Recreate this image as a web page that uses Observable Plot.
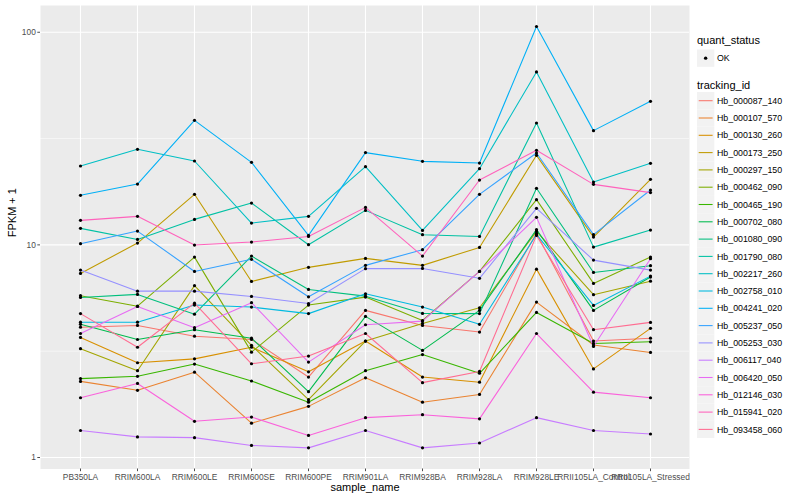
<!DOCTYPE html>
<html><head><meta charset="utf-8">
<script src="https://cdn.jsdelivr.net/npm/d3@7"></script>
<script src="https://cdn.jsdelivr.net/npm/@observablehq/plot@0.6"></script>
<style>
body{margin:0;background:#fff;font-family:"Liberation Sans",Arial,Helvetica,sans-serif;}
#wrap{position:relative;width:800px;height:500px;overflow:hidden;}
#wrap svg.plot{position:absolute;left:0;top:0;}
#legend{position:absolute;left:690px;top:0;}
</style></head><body><div id="wrap"></div>
<script>
const samples = ["PB350LA","RRIM600LA","RRIM600LE","RRIM600SE","RRIM600PE","RRIM901LA","RRIM928BA","RRIM928LA","RRIM928LE","RRII105LA_Control","RRII105LA_Stressed"];
const trackingIds = ["Hb_000087_140","Hb_000107_570","Hb_000130_260","Hb_000173_250","Hb_000297_150","Hb_000462_090","Hb_000465_190","Hb_000702_080","Hb_001080_090","Hb_001790_080","Hb_002217_260","Hb_002758_010","Hb_004241_020","Hb_005237_050","Hb_005253_030","Hb_006117_040","Hb_006420_050","Hb_012146_030","Hb_015941_020","Hb_093458_060"];
const quantStatus = ["OK"];

const Hb_000087_140 = [4.10, 4.18, 3.72, 3.59, 2.39, 4.92, 4.18, 3.89, 11.33, 3.53, 3.64];
const Hb_000107_570 = [2.28, 2.07, 2.52, 1.45, 1.74, 2.37, 1.82, 1.98, 5.38, 3.38, 3.12];
const Hb_000130_260 = [3.67, 2.79, 2.91, 3.30, 2.53, 3.53, 2.39, 2.26, 7.69, 2.61, 4.05];
const Hb_000173_250 = [7.34, 10.20, 17.29, 6.73, 7.84, 8.64, 8.01, 9.73, 26.37, 10.88, 20.33];
const Hb_000297_150 = [3.25, 2.56, 6.43, 3.37, 1.87, 3.53, 4.27, 5.06, 11.57, 5.83, 6.75];
const Hb_000462_090 = [5.77, 5.15, 8.76, 3.13, 5.21, 5.68, 4.41, 7.50, 16.32, 6.59, 8.76];
const Hb_000465_190 = [2.35, 2.41, 2.75, 2.29, 1.82, 2.56, 3.05, 2.49, 4.81, 3.44, 3.50];
const Hb_000702_080 = [4.23, 3.59, 3.99, 3.64, 2.04, 4.61, 3.19, 4.92, 11.79, 4.92, 7.06];
const Hb_001080_090 = [5.66, 5.85, 4.72, 8.86, 6.17, 5.74, 4.76, 4.75, 18.45, 7.42, 7.98];
const Hb_001790_080 = [11.96, 10.61, 13.18, 15.73, 10.02, 14.53, 11.17, 10.96, 37.43, 9.76, 11.74];
const Hb_002217_260 = [23.49, 28.14, 24.80, 12.66, 13.62, 23.33, 11.70, 22.83, 65.05, 19.75, 24.18];
const Hb_002758_010 = [4.33, 4.33, 5.21, 5.10, 4.75, 5.89, 5.10, 4.23, 11.20, 5.19, 7.13];
const Hb_004241_020 = [17.10, 19.32, 38.53, 24.44, 11.08, 27.16, 24.71, 24.26, 106.4, 34.46, 47.34];
const Hb_005237_050 = [10.13, 11.61, 7.50, 8.55, 5.70, 8.01, 9.49, 17.29, 27.04, 11.17, 18.11];
const Hb_005253_030 = [7.61, 6.06, 6.06, 5.72, 5.30, 7.73, 7.75, 6.96, 14.85, 8.48, 7.61];
const Hb_006117_040 = [1.34, 1.25, 1.24, 1.14, 1.11, 1.34, 1.11, 1.17, 1.54, 1.34, 1.29];
const Hb_006420_050 = [3.83, 5.13, 4.08, 5.35, 2.81, 4.21, 4.38, 7.50, 13.47, 3.33, 8.61];
const Hb_012146_030 = [1.91, 2.23, 1.48, 1.55, 1.27, 1.54, 1.59, 1.52, 3.83, 2.03, 1.91];
const Hb_015941_020 = [13.04, 13.62, 9.98, 10.31, 10.96, 15.01, 8.86, 20.18, 27.84, 19.26, 17.61];
const Hb_093458_060 = [4.75, 3.30, 5.32, 2.76, 3.00, 3.83, 2.25, 2.54, 11.08, 3.99, 4.32];

const seriesValues = [Hb_000087_140, Hb_000107_570, Hb_000130_260, Hb_000173_250, Hb_000297_150, Hb_000462_090, Hb_000465_190, Hb_000702_080, Hb_001080_090, Hb_001790_080, Hb_002217_260, Hb_002758_010, Hb_004241_020, Hb_005237_050, Hb_005253_030, Hb_006117_040, Hb_006420_050, Hb_012146_030, Hb_015941_020, Hb_093458_060];

const hueColors = ["#F8766D","#EA8331","#D89000","#C09B00","#A3A500","#7CAE00","#39B600","#00BB4E","#00BF7D","#00C1A3","#00BFC4","#00BAE0","#00B0F6","#35A2FF","#9590FF","#C77CFF","#E76BF3","#FA62DB","#FF62BC","#FF6C91"];
const yTicks = [1, 10, 100];
const yMinor = [Math.sqrt(10), Math.sqrt(1000)];

const rows = [];
trackingIds.forEach((id, i) => {
  samples.forEach((s, j) => rows.push({id, sample: s, value: seriesValues[i][j], status: quantStatus[0]}));
});

const chart = Plot.plot({
  width: 800, height: 500,
  marginLeft: 40, marginRight: 111, marginTop: 5, marginBottom: 31.5,
  className: "plot",
  style: {fontFamily: "'Liberation Sans', Arial, sans-serif", background: "transparent"},
  x: {type: "point", domain: samples, padding: 0.6, label: null},
  y: {type: "log", domain: [0.883, 133.6], label: null},
  color: {domain: trackingIds, range: hueColors},
  marks: [
    Plot.frame({fill: "#EBEBEB", stroke: null}),
    Plot.ruleY(yMinor, {stroke: "#fff", strokeWidth: 0.55}),
    Plot.ruleY(yTicks, {stroke: "#fff", strokeWidth: 1.1}),
    Plot.ruleX(samples, {stroke: "#fff", strokeWidth: 1.1}),
    Plot.line(rows, {x: "sample", y: "value", z: "id", stroke: "id", strokeWidth: 1.07}),
    Plot.dot(rows, {x: "sample", y: "value", r: 1.6, fill: "#000", stroke: null}),
    Plot.axisY({ticks: yTicks, tickFormat: d => String(d), tickSize: 2.7, tickPadding: 2, fontSize: 8.4, color: "#4D4D4D", label: null}),
    Plot.axisX({tickSize: 2.7, tickPadding: 2, fontSize: 8.4, color: "#4D4D4D", label: null}),
    Plot.text(["FPKM + 1"], {text: d => d, frameAnchor: "left", dx: -28, rotate: -90, fontSize: 11, fill: "#000"}),
    Plot.text(["sample_name"], {text: d => d, frameAnchor: "bottom", dy: 22, fontSize: 11, fill: "#000"})
  ]
});
const wrap = document.getElementById("wrap");
wrap.appendChild(chart);

// legend drawn as a separate svg
const lg = d3.create("svg").attr("id", "legend").attr("width", 110).attr("height", 500)
  .style("font-family", "'Liberation Sans', Arial, sans-serif");
lg.append("text").attr("x", 7).attr("y", 44).attr("font-size", 11).attr("fill", "#000").text("quant_status");
lg.append("rect").attr("x", 7).attr("y", 49.5).attr("width", 17.3).attr("height", 17.3).attr("fill", "#F2F2F2");
lg.append("circle").attr("cx", 15.65).attr("cy", 58.15).attr("r", 1.7).attr("fill", "#000");
lg.append("text").attr("x", 27).attr("y", 61.2).attr("font-size", 8.8).attr("fill", "#000").text(quantStatus[0]);
lg.append("text").attr("x", 7).attr("y", 88.5).attr("font-size", 11).attr("fill", "#000").text("tracking_id");
trackingIds.forEach((id, i) => {
  const cy = 100.7 + 17.3 * i;
  lg.append("rect").attr("x", 7).attr("y", cy - 8.65).attr("width", 17.3).attr("height", 17.3).attr("fill", "#F2F2F2");
  lg.append("line").attr("x1", 8.7).attr("x2", 22.6).attr("y1", cy).attr("y2", cy)
    .attr("stroke", hueColors[i]).attr("stroke-width", 1.07);
  lg.append("text").attr("x", 27).attr("y", cy + 3.1).attr("font-size", 8.8).attr("fill", "#000").text(id);
});
const lgNode = lg.node();
lgNode.style.position = "absolute"; lgNode.style.left = "690px"; lgNode.style.top = "0px";
wrap.appendChild(lgNode);
</script></body></html>
